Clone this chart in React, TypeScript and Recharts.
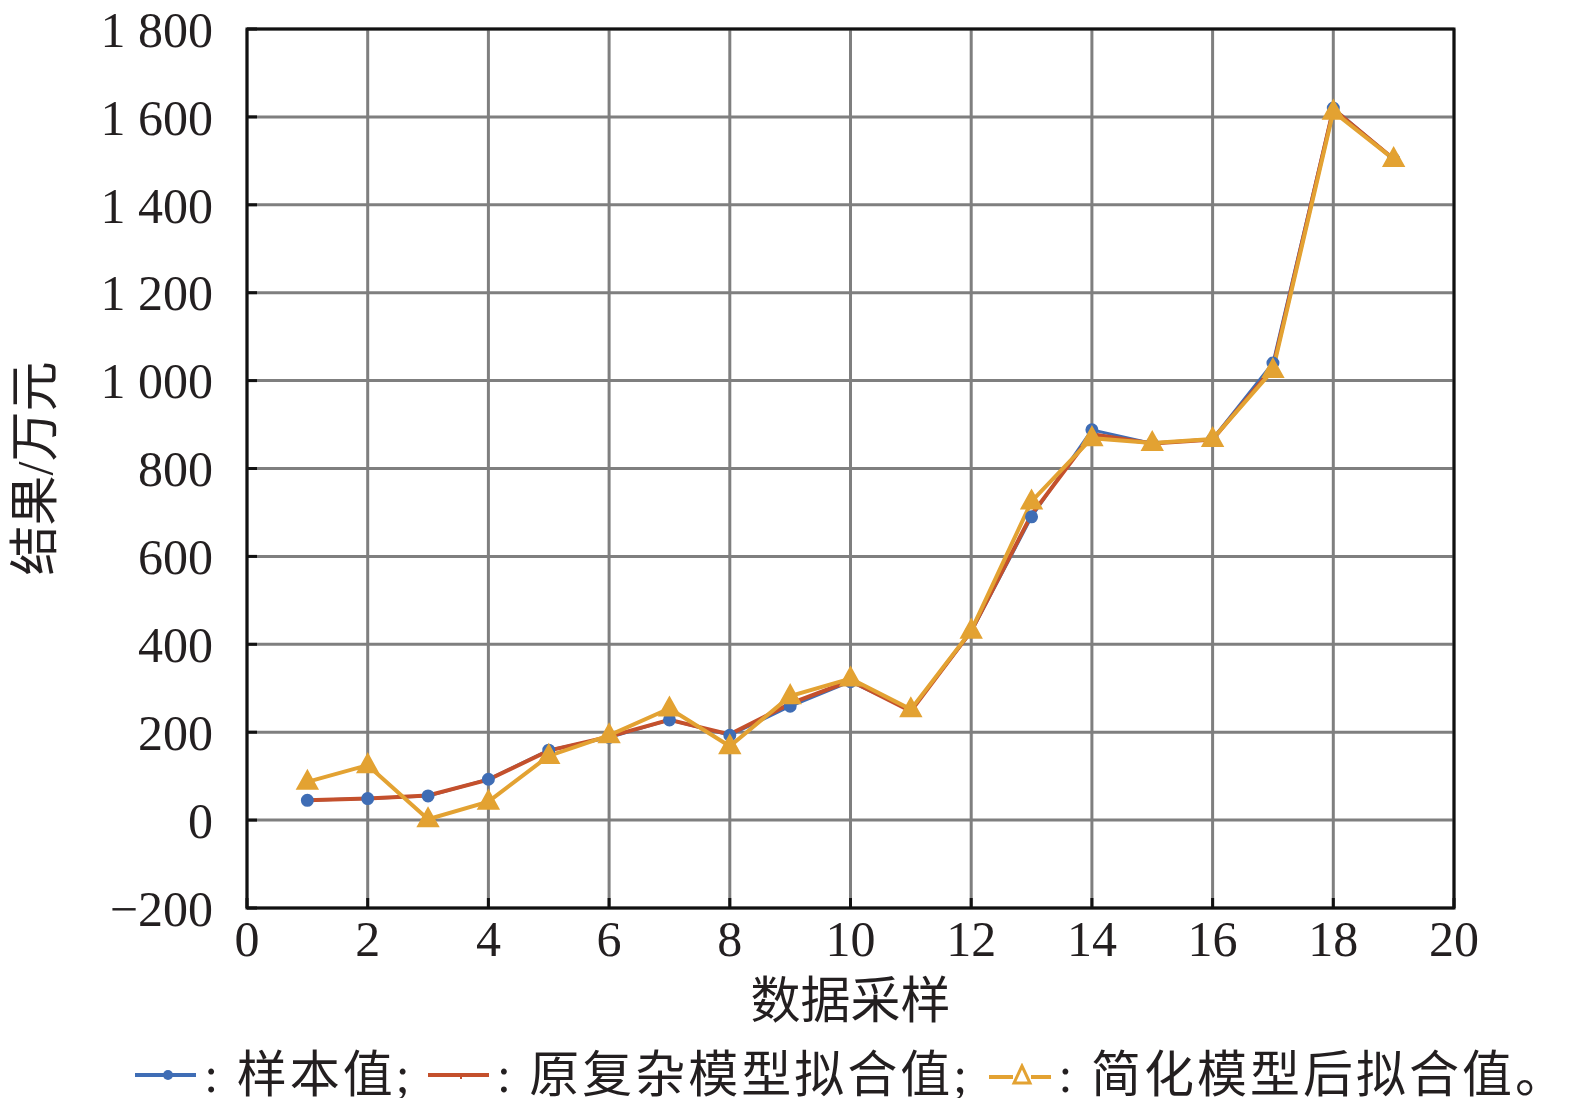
import React from 'react';
import { LineChart, Line, XAxis, YAxis, CartesianGrid, ReferenceArea, Legend } from 'recharts';

const samples = [1, 2, 3, 4, 5, 6, 7, 8, 9, 10, 11, 12, 13, 14, 15, 16, 17, 18, 19];
const sampleValues = [45, 49, 55, 93, 159, 188, 228, 193, 259, 315, 250, 428, 690, 888, 857, 867, 1040, 1620, 1504];
const originalFit = [45, 49, 56, 92, 158, 190, 228, 195, 265, 317, 248, 430, 695, 878, 857, 866, 1030, 1618, 1504];
const simplifiedFit = [87, 125, 2, 42, 146, 193, 254, 168, 282, 322, 252, 431, 725, 869, 858, 867, 1024, 1612, 1504];
const xTicks = [0, 2, 4, 6, 8, 10, 12, 14, 16, 18, 20];
const yTicks = [-200, 0, 200, 400, 600, 800, 1000, 1200, 1400, 1600, 1800];

const data = samples.map((s, i) => ({
  x: s,
  sample: sampleValues[i],
  original: originalFit[i],
  simplified: simplifiedFit[i],
}));

const BLUE = '#3f6db5';
const RED = '#c4502c';
const ORANGE = '#e3a232';
const SERIF = '"Liberation Serif", "Times New Roman", serif';
const CJK = '"Liberation Serif", "Noto Sans CJK SC", serif';
const TXT = '#231f20';

const fmtY = (v: number) => {
  const neg = v < 0;
  const a = Math.abs(v);
  const s = a >= 1000 ? `${Math.floor(a / 1000)}\u00a0${String(a % 1000).padStart(3, '0')}` : String(a);
  return (neg ? '\u2212' : '') + s;
};

const Triangle = (props: any) => {
  const { cx, cy } = props;
  if (cx == null || cy == null) return null;
  return (
    <polygon
      points={`${cx},${cy - 11} ${cx - 10},${cy + 7} ${cx + 10},${cy + 7}`}
      fill={ORANGE}
      stroke={ORANGE}
      strokeWidth={2}
    />
  );
};

const YTitle = (props: any) => {
  const vb = props.viewBox || {};
  const cx = 27;
  const cy = (vb.y ?? 0) + (vb.height ?? 0) / 2;
  return (
    <text x={cx} y={cy} transform={`rotate(-90 ${cx} ${cy})`} textAnchor="middle" dominantBaseline="central" fontSize={50} fontFamily={CJK} fill={TXT}>
      结果/万元
    </text>
  );
};

const XTitle = (props: any) => {
  const vb = props.viewBox || {};
  const cx = (vb.x ?? 0) + (vb.width ?? 0) / 2;
  const cy = (vb.y ?? 0) + 93;
  return (
    <text x={cx} y={cy} textAnchor="middle" dominantBaseline="central" fontSize={50} fontFamily={CJK} fill={TXT}>
      数据采样
    </text>
  );
};

const LegendContent = () => (
  <div style={{ display: 'flex', alignItems: 'center', fontSize: 50, lineHeight: 1, fontFamily: CJK, color: TXT, whiteSpace: 'nowrap', paddingLeft: 127, height: 60 }}>
    <svg width={66} height={20} style={{ display: 'block' }}>
      <line x1={0} y1={10} x2={66} y2={10} stroke={BLUE} strokeWidth={4} />
      <circle cx={33} cy={10} r={5} fill={BLUE} />
    </svg>
    <span style={{ marginLeft: 8, letterSpacing: 3 }}>:&nbsp;样本值;</span>
    <svg width={66} height={20} style={{ display: 'block', marginLeft: 15 }}>
      <line x1={0} y1={10} x2={66} y2={10} stroke={RED} strokeWidth={4} />
      <line x1={33} y1={10} x2={33} y2={14} stroke={RED} strokeWidth={2} />
    </svg>
    <span style={{ marginLeft: 8, letterSpacing: 3 }}>:&nbsp;原复杂模型拟合值;</span>
    <svg width={66} height={24} style={{ display: 'block', marginLeft: 19 }}>
      <line x1={0} y1={14} x2={24} y2={14} stroke={ORANGE} strokeWidth={4} />
      <line x1={42} y1={14} x2={66} y2={14} stroke={ORANGE} strokeWidth={4} />
      <polygon points="33,3 25,20 41,20" fill="none" stroke={ORANGE} strokeWidth={3} />
    </svg>
    <span style={{ marginLeft: 8, letterSpacing: 3 }}>:&nbsp;简化模型后拟合值。</span>
  </div>
);

export default function App() {
  return (
    <div style={{ marginTop: -8 }}>
      <LineChart width={1560} height={1098} data={data} margin={{ top: 29, right: 114, left: 0, bottom: 0 }}>
        <CartesianGrid stroke="#7f7f7f" strokeWidth={3} />
        <XAxis
          dataKey="x"
          type="number"
          domain={[0, 20]}
          ticks={xTicks}
          allowDataOverflow
          height={190}
          axisLine={false}
          tickSize={-10}
          tickMargin={22}
          tickLine={{ stroke: '#111', strokeWidth: 3 }}
          tick={{ fontSize: 50, fontFamily: SERIF, fill: TXT }}
          interval={0}
          label={{ content: XTitle }}
        />
        <YAxis
          type="number"
          domain={[-200, 1800]}
          ticks={yTicks}
          allowDataOverflow
          width={239}
          axisLine={false}
          tickSize={-10}
          tickMargin={44}
          tickLine={{ stroke: '#111', strokeWidth: 3 }}
          tick={{ fontSize: 50, fontFamily: SERIF, fill: TXT }}
          tickFormatter={fmtY}
          interval={0}
          label={{ content: YTitle }}
        />
        <ReferenceArea x1={0} x2={20} y1={-200} y2={1800} fill="none" stroke="#111" strokeWidth={3} ifOverflow="visible" />
        <Line dataKey="sample" stroke={BLUE} strokeWidth={3} dot={{ r: 5, fill: BLUE, stroke: BLUE }} isAnimationActive={false} />
        <Line dataKey="original" stroke={RED} strokeWidth={4} dot={false} isAnimationActive={false} />
        <Line dataKey="simplified" stroke={ORANGE} strokeWidth={4} dot={<Triangle />} isAnimationActive={false} />
        <Legend verticalAlign="middle" align="center" layout="horizontal" content={<LegendContent />} wrapperStyle={{ top: 1045, left: 0, width: 1560, height: 60 }} />
      </LineChart>
    </div>
  );
}
